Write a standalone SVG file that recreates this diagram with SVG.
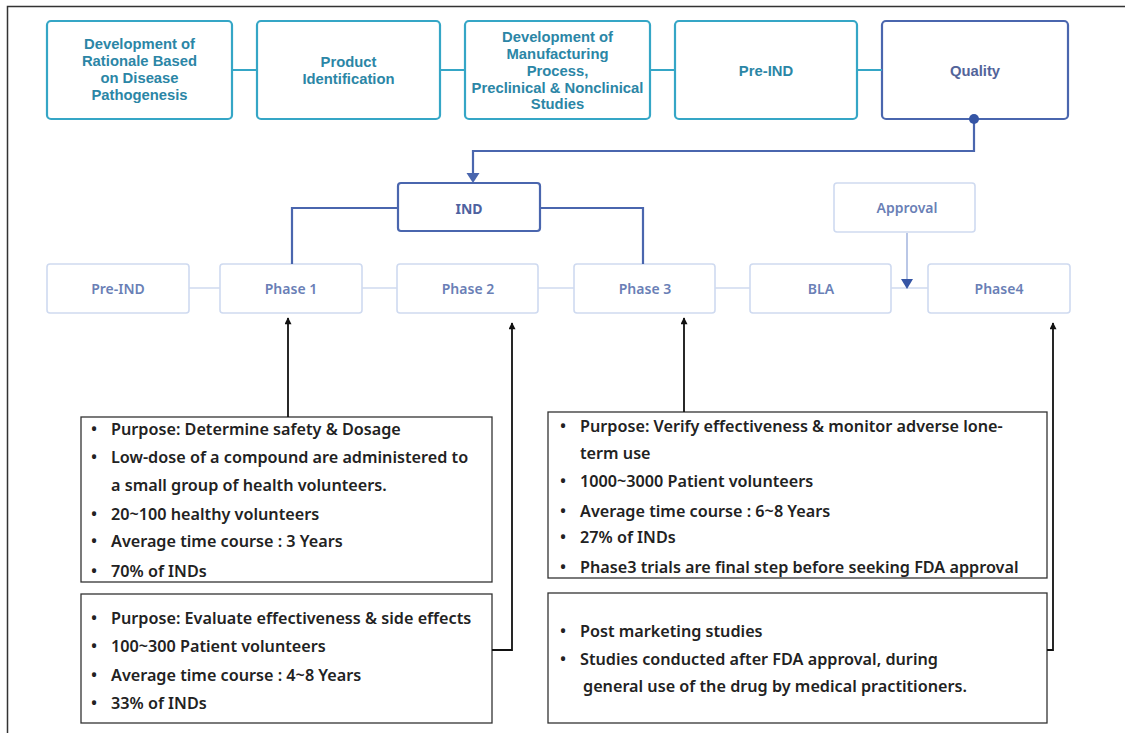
<svg xmlns="http://www.w3.org/2000/svg" width="1125" height="733" viewBox="0 0 1125 733">
<defs>
<style>
.tb{fill:#fff;stroke:#35a6c6;stroke-width:2.2}
.tq{fill:#fff;stroke:#4a66ae;stroke-width:2.2}
.tt{font-family:"Liberation Sans",Arial,sans-serif;font-weight:bold;font-size:14.8px;fill:#2b86a6;text-anchor:middle}
.tqt{font-family:"Liberation Sans",Arial,sans-serif;font-weight:bold;font-size:14.8px;fill:#52649a;text-anchor:middle}
.rb{fill:#fff;stroke:#cfdaf0;stroke-width:1.6}
.rt{font-family:"Noto Sans","Liberation Sans",sans-serif;font-weight:600;font-size:14px;fill:#6a7fb6;text-anchor:middle}
.ib{fill:#fff;stroke:#4a66ae;stroke-width:2.2}
.it{font-family:"Noto Sans","Liberation Sans",sans-serif;font-weight:bold;font-size:14px;fill:#4e62a0;text-anchor:middle}
.cb{fill:#fff;stroke:#333;stroke-width:1.3}
.ct{font-family:"Noto Sans","Liberation Sans",sans-serif;font-weight:600;font-size:16.2px;fill:#222}
.tl{fill:none;stroke:#35a6c6;stroke-width:2.2}
.bl{fill:none;stroke:#4a66ae;stroke-width:2.2}
.rl{fill:none;stroke:#cfdaf0;stroke-width:1.6}
.kl{fill:none;stroke:#111;stroke-width:1.8}
</style>
<marker id="ak" viewBox="0 0 10 10" refX="5" refY="1" markerWidth="7" markerHeight="8" markerUnits="userSpaceOnUse" orient="0"><path d="M0,10 L5,0 L10,10 Z" fill="#111"/></marker>
</defs>
<rect width="1125" height="733" fill="#fff"/>
<path d="M7.5,733 V6.5 H1125" fill="none" stroke="#333" stroke-width="1.5"/>

<g id="n-rationale"><rect class="tb" x="47" y="21" width="185" height="98" rx="4"/>
<text class="tt" x="139.5" y="49">Development of</text><text class="tt" x="139.5" y="66">Rationale Based</text><text class="tt" x="139.5" y="83">on Disease</text><text class="tt" x="139.5" y="100">Pathogenesis</text></g>
<g id="n-product"><rect class="tb" x="257" y="21" width="183" height="98" rx="4"/>
<text class="tt" x="348.5" y="67">Product</text><text class="tt" x="348.5" y="84">Identification</text></g>
<g id="n-manufacturing"><rect class="tb" x="465" y="21" width="185" height="98" rx="4"/>
<text class="tt" x="557.5" y="42">Development of</text><text class="tt" x="557.5" y="59">Manufacturing</text><text class="tt" x="557.5" y="76">Process,</text><text class="tt" x="557.5" y="93">Preclinical &amp; Nonclinical</text><text class="tt" x="557.5" y="109">Studies</text></g>
<g id="n-preind-top"><rect class="tb" x="675" y="21" width="182" height="98" rx="4"/>
<text class="tt" x="766" y="76">Pre-IND</text></g>
<g id="n-quality"><rect class="tq" x="882" y="21" width="186" height="98" rx="4"/>
<text class="tqt" x="975" y="76">Quality</text></g>

<g id="n-ind"><rect class="ib" x="398" y="183" width="142" height="48" rx="3"/><text class="it" x="469" y="214">IND</text></g>
<g id="n-approval"><rect class="rb" x="834" y="183" width="141" height="49" rx="3"/><text class="rt" x="907" y="213">Approval</text></g>

<g id="n-preind"><rect class="rb" x="47" y="264" width="142" height="49" rx="3"/><text class="rt" x="118" y="294">Pre-IND</text></g>
<g id="n-phase1"><rect class="rb" x="220" y="264" width="142" height="49" rx="3"/><text class="rt" x="291" y="294">Phase 1</text></g>
<g id="n-phase2"><rect class="rb" x="397" y="264" width="141" height="49" rx="3"/><text class="rt" x="468" y="294">Phase 2</text></g>
<g id="n-phase3"><rect class="rb" x="574" y="264" width="141" height="49" rx="3"/><text class="rt" x="645" y="294">Phase 3</text></g>
<g id="n-bla"><rect class="rb" x="750" y="264" width="141" height="49" rx="3"/><text class="rt" x="821" y="294">BLA</text></g>
<g id="n-phase4"><rect class="rb" x="928" y="264" width="142" height="49" rx="3"/><text class="rt" x="999" y="294">Phase4</text></g>

<g id="n-info1"><rect class="cb" x="81" y="417" width="411" height="165"/>
<g class="ct">
<text x="91" y="435">•</text><text x="111" y="435">Purpose: Determine safety &amp; Dosage</text>
<text x="91" y="463">•</text><text x="111" y="463">Low-dose of a compound are administered to</text>
<text x="111" y="491">a small group of health volunteers.</text>
<text x="91" y="520">•</text><text x="111" y="520">20~100 healthy volunteers</text>
<text x="91" y="547">•</text><text x="111" y="547">Average time course : 3 Years</text>
<text x="91" y="577">•</text><text x="111" y="577">70% of INDs</text>
</g></g>
<g id="n-info2"><rect class="cb" x="81" y="594" width="411" height="129"/>
<g class="ct">
<text x="91" y="624">•</text><text x="111" y="624">Purpose: Evaluate effectiveness &amp; side effects</text>
<text x="91" y="652">•</text><text x="111" y="652">100~300 Patient volunteers</text>
<text x="91" y="681">•</text><text x="111" y="681">Average time course : 4~8 Years</text>
<text x="91" y="709">•</text><text x="111" y="709">33% of INDs</text>
</g></g>
<g id="n-info3"><rect class="cb" x="548" y="412" width="499" height="166"/>
<g class="ct">
<text x="560" y="432">•</text><text x="580" y="432">Purpose: Verify effectiveness &amp; monitor adverse lone-</text>
<text x="580" y="459">term use</text>
<text x="560" y="487">•</text><text x="580" y="487">1000~3000 Patient volunteers</text>
<text x="560" y="517">•</text><text x="580" y="517">Average time course : 6~8 Years</text>
<text x="560" y="543">•</text><text x="580" y="543">27% of INDs</text>
<text x="560" y="573">•</text><text x="580" y="573">Phase3 trials are final step before seeking FDA approval</text>
</g></g>
<g id="n-info4"><rect class="cb" x="548" y="593" width="499" height="130"/>
<g class="ct">
<text x="560" y="637">•</text><text x="580" y="637">Post marketing studies</text>
<text x="560" y="665">•</text><text x="580" y="665">Studies conducted after FDA approval, during</text>
<text x="583" y="692">general use of the drug by medical practitioners.</text>
</g></g>

<g id="connectors">
<path class="tl" d="M232,70 H257 M440,70 H465 M650,70 H675 M857,70 H882"/>
<path class="bl" d="M974,119 V151 H473 V175"/>
<path d="M466.5,173 L479.5,173 L473,183 Z" fill="#4a66ae"/>
<circle cx="974" cy="119" r="5" fill="#3555a5"/>
<path class="bl" d="M398,208 H292 V264 M540,208 H643 V264"/>
<path class="rl" d="M189,288 H220 M362,288 H397 M538,288 H574 M715,288 H750 M891,288 H928"/>
<path d="M907,233 V281" fill="none" stroke="#a9b9e0" stroke-width="1.6"/>
<path d="M901,279 L913,279 L907,289 Z" fill="#3555a5"/>
<path class="kl" d="M288,417 V318" marker-end="url(#ak)"/>
<path class="kl" d="M492,650 H512 V323" marker-end="url(#ak)"/>
<path class="kl" d="M684,412 V318" marker-end="url(#ak)"/>
<path class="kl" d="M1047,650 H1053 V323" marker-end="url(#ak)"/>
</g>
</svg>
